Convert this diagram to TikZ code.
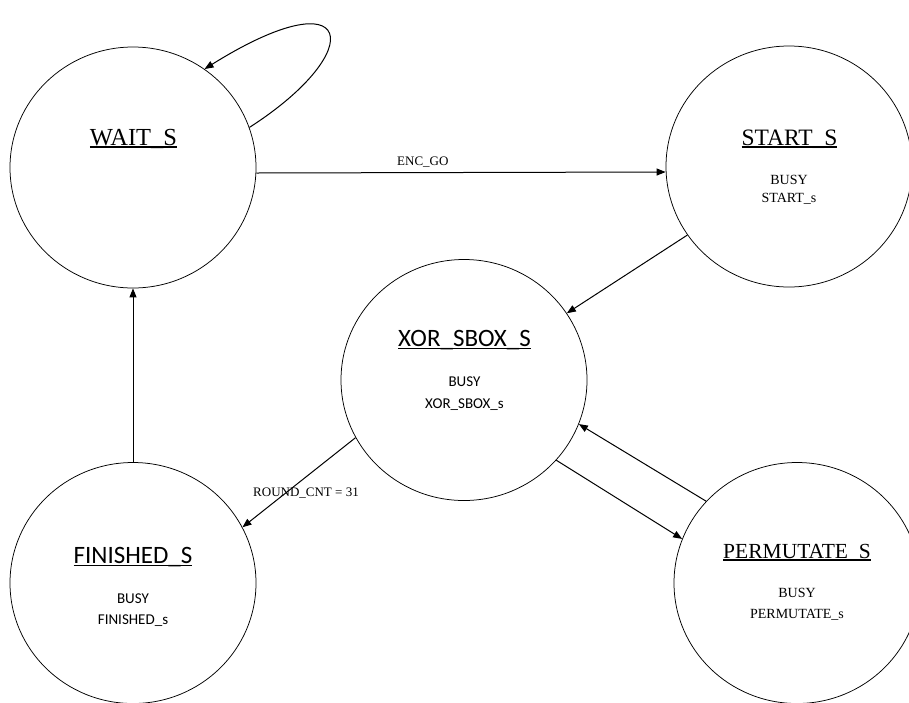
\documentclass[tikz,border=0pt]{standalone}
\usepackage{fontspec}
\setmainfont{Liberation Serif}
\newfontfamily\calfont{Carlito}
\usetikzlibrary{shapes.geometric,arrows.meta}
\newcommand\titleul[1]{\setbox0\hbox{#1}\setbox2\hbox{\_}\copy0\kern-\wd0\rule[-\dp2]{\wd0}{0.07em}}
\begin{document}
\begin{tikzpicture}[x=1pt,y=-1pt,
  state/.style={ellipse,draw,line width=0.75pt,minimum width=246pt,minimum height=241pt,inner sep=0pt},
  arr/.style={line width=1pt,-{Triangle[length=9pt,width=7pt]}},
  sttl/.style={anchor=base,inner sep=0pt,font=\fontsize{23.5}{28}\selectfont},
  cttl/.style={anchor=base,inner sep=0pt,font=\calfont\fontsize{25}{30}\selectfont},
  stxt/.style={anchor=base,inner sep=0pt,font=\fontsize{14}{17}\selectfont},
  ctxt/.style={anchor=base,inner sep=0pt,font=\calfont\fontsize{15}{18}\selectfont},
  lbl/.style={anchor=base west,inner sep=0pt,font=\fontsize{13}{16}\selectfont}]
\useasboundingbox (0,0) rectangle (909,702);
\fill[white] (0,0) rectangle (909,702);
% states
\node[state] (wait)  at (133,167.5) {};
\node[state] (start) at (789,166.5) {};
\node[state] (xor)   at (464,380) {};
\node[state] (fin)   at (133,583) {};
\node[state] (perm)  at (797,583) {};
% texts
\node[sttl,font=\fontsize{24.5}{29}\selectfont] (waitT) at (133.5,145) {\titleul{WAIT\_S}};
\node[sttl] (startT) at (789.5,145) {\titleul{START\_S}};
\node[stxt] (startB) at (789,184) {BUSY};
\node[stxt] (startS) at (789,202.5) {START\_s};
\node[cttl] (xorT)   at (464.5,346) {\titleul{XOR\_SBOX\_S}};
\node[ctxt] (xorB)   at (464.5,386) {BUSY};
\node[ctxt] (xorS)   at (464.5,408) {XOR\_SBOX\_s};
\node[cttl] (finT)   at (133,563) {\titleul{FINISHED\_S}};
\node[ctxt] (finB)   at (133,603) {BUSY};
\node[ctxt] (finS)   at (133,624) {FINISHED\_s};
\node[sttl,font=\fontsize{21.5}{26}\selectfont] (permT) at (797,558) {\titleul{PERMUTATE\_S}};
\node[stxt] (permB)  at (797,597) {BUSY};
\node[stxt] (permS)  at (797,618) {PERMUTATE\_s};
\node[lbl] (enc) at (397,165) {ENC\_GO};
\node[lbl] (rc)  at (253,496) {ROUND\_CNT = 31};
% connectors
\draw[arr] (wait.19.5) .. controls (370,50) and (355,-25) .. (wait.54.9);
\draw[arr] ([yshift=-5.5pt]wait.east) -- ([yshift=-5.5pt]start.west);
\draw[arr] (start.214.5) -- (xor.33.7);
\draw[arr] (xor.208.5) -- (fin.27.6);
\draw[arr] (xor.-41.7) -- (perm.159);
\draw[arr] (perm.138.6) -- (xor.-21.7);
\draw[arr] (fin.north) -- (wait.south);
\end{tikzpicture}
\end{document}
